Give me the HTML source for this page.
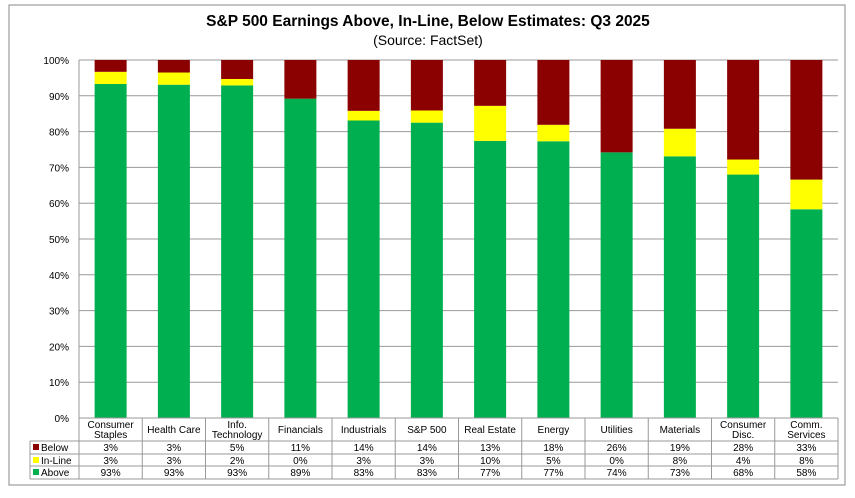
<!DOCTYPE html>
<html><head><meta charset="utf-8"><style>
body{margin:0;background:#fff;font-family:"Liberation Sans",Arial,sans-serif}
svg text{font-family:"Liberation Sans",Arial,sans-serif}
</style></head><body>
<svg id="c" width="855" height="493" xmlns="http://www.w3.org/2000/svg">
<rect x="9" y="5" width="836" height="480" fill="#fff" stroke="#888" stroke-width="1"/>
<text x="428" y="26" text-anchor="middle" font-size="15.5" font-weight="bold" fill="#000">S&amp;P 500 Earnings Above, In-Line, Below Estimates: Q3 2025</text>
<text x="428" y="45" text-anchor="middle" font-size="14" fill="#000">(Source: FactSet)</text>
<g id="grid"></g><g id="bars"></g><g id="table"></g>
</svg>
<script>
const categories=[["Consumer","Staples"],["Health Care"],["Info.","Technology"],["Financials"],["Industrials"],["S&P 500"],["Real Estate"],["Energy"],["Utilities"],["Materials"],["Consumer","Disc."],["Comm.","Services"]];
const aboveVals=[93.3,93.1,92.9,89.2,83.1,82.5,77.4,77.3,74.2,73.1,68,58.3];
const inlineVals=[3.4,3.4,1.8,0,2.7,3.4,9.8,4.6,0,7.7,4.2,8.3];
const belowVals=[3.3,3.5,5.3,10.8,14.2,14.1,12.8,18.1,25.8,19.2,27.8,33.4];
const belowLabels=["3%","3%","5%","11%","14%","14%","13%","18%","26%","19%","28%","33%"];
const inlineLabels=["3%","3%","2%","0%","3%","3%","10%","5%","0%","8%","4%","8%"];
const aboveLabels=["93%","93%","93%","89%","83%","83%","77%","77%","74%","73%","68%","58%"];
const yTicks=[0,10,20,30,40,50,60,70,80,90,100];
const NS="http://www.w3.org/2000/svg";
const L=79,R=838,T=60,B=418,n=categories.length,bw=(R-L)/n,barW=32;
const y=v=>B-(v/100)*(B-T);
const x=i=>L+bw*i;
function mk(tag,attrs,parent,txt){const e=document.createElementNS(NS,tag);for(const k in attrs)e.setAttribute(k,attrs[k]);if(txt!==undefined)e.textContent=txt;parent.appendChild(e);return e;}
const grid=document.getElementById('grid'),bars=document.getElementById('bars'),tbl=document.getElementById('table');
yTicks.forEach(t=>{
 const g=mk('line',{x1:L,x2:R,y1:y(t),y2:y(t),stroke:'#999','stroke-width':1},grid);
 
 
 const lb=mk('text',{x:L-10,y:y(t)+4,'text-anchor':'end','font-size':10,fill:'#000'},grid,t+'%');
 
 
});
const ax=mk('line',{x1:L,x2:L,y1:T,y2:B,stroke:'#999'},grid);


categories.forEach((c,i)=>{
 const bx=x(i)+(bw-barW)/2;
 const a=aboveVals[i],m=inlineVals[i],b=belowVals[i];
 const r1=mk('rect',{x:bx,y:y(a),width:barW,height:y(0)-y(a),fill:'#00b050'},bars);
 
 
 const r2=mk('rect',{x:bx,y:y(a+m),width:barW,height:y(a)-y(a+m),fill:'#ffff00'},bars);
 
 
 const r3=mk('rect',{x:bx,y:y(a+m+b),width:barW,height:y(a+m)-y(a+m+b),fill:'#8b0000'},bars);
 
 
});
// table
const rowsY=[418,441,454,466,479];
const tl=30;
const st={stroke:'#999','stroke-width':1};
mk('line',Object.assign({x1:L,x2:R,y1:418,y2:418},st),tbl);
mk('line',Object.assign({x1:tl,x2:R,y1:441,y2:441},st),tbl);
mk('line',Object.assign({x1:tl,x2:R,y1:454,y2:454},st),tbl);
mk('line',Object.assign({x1:tl,x2:R,y1:466,y2:466},st),tbl);
mk('line',Object.assign({x1:tl,x2:R,y1:479,y2:479},st),tbl);
mk('line',Object.assign({x1:tl,x2:tl,y1:441,y2:479},st),tbl);
for(let i=0;i<=n;i++)mk('line',Object.assign({x1:x(i),x2:x(i),y1:418,y2:479},st),tbl);
const legend=[["Below","#8b0000",belowLabels,451],["In-Line","#ffff00",inlineLabels,464],["Above","#00b050",aboveLabels,476]];
legend.forEach(([nm,col,labs,ty])=>{
 const sw=mk('rect',{x:33,y:ty-7,width:6,height:6,fill:col},tbl);
 
 
 const lt=mk('text',{x:41,y:ty,'font-size':10,fill:'#000'},tbl,nm);
 
 
 labs.forEach((v,i)=>{
  const t=mk('text',{x:x(i)+bw/2,y:ty,'text-anchor':'middle','font-size':10,fill:'#000'},tbl,v);
  
  
 });
});
categories.forEach((c,i)=>{
 const cx=x(i)+bw/2;
 if(c.length===1){
  const t=mk('text',{x:cx,y:433,'text-anchor':'middle','font-size':10,fill:'#000'},tbl,c[0]);
  
  
 } else {
  c.forEach((s,k)=>{
   const t=mk('text',{x:cx,y:428+k*10,'text-anchor':'middle','font-size':10,fill:'#000'},tbl,s);
   
   
  });
 }
});
</script>
</body></html>
